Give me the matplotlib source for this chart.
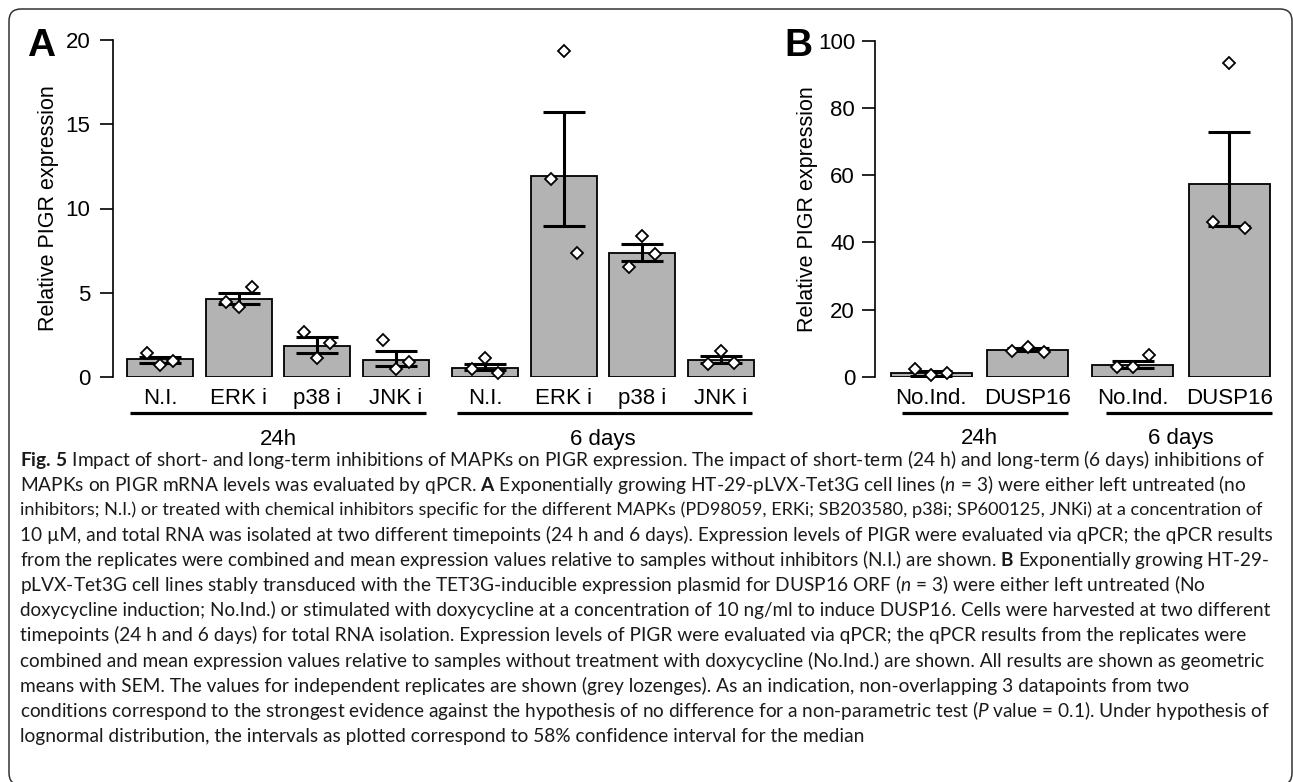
import matplotlib
matplotlib.use("Agg")
import matplotlib.pyplot as plt
from matplotlib.patches import FancyBboxPatch
from matplotlib.transforms import IdentityTransform, blended_transform_factory

# panel A: MAPK inhibitors, 24h then 6 days
labels_a = ["N.I.", "ERK i", "p38 i", "JNK i", "N.I.", "ERK i", "p38 i", "JNK i"]
mean_a = [1.05, 4.63, 1.84, 1.0, 0.55, 11.9, 7.34, 1.0]
low_a = [0.84, 4.32, 1.44, 0.67, 0.40, 8.98, 6.88, 0.81]
high_a = [1.20, 4.96, 2.39, 1.54, 0.80, 15.7, 7.87, 1.25]
reps_a = [[1.4, 0.73, 0.96], [4.43, 4.17, 5.32], [2.67, 1.11, 2.04], [2.2, 0.47, 0.87],
          [0.45, 1.1, 0.25], [11.78, 19.37, 7.34], [6.55, 8.37, 7.3], [0.75, 1.56, 0.81]]

# panel B: DUSP16 induction
labels_b = ["No.Ind.", "DUSP16", "No.Ind.", "DUSP16"]
mean_b = [1.0, 7.94, 3.48, 57.4]
low_b = [0.3, 7.6, 2.5, 44.85]
high_b = [1.6, 8.4, 4.67, 72.9]
reps_b = [[2.3, 0.5, 1.0], [7.74, 8.93, 7.44], [2.8, 2.8, 6.46], [46.1, 93.3, 44.3]]

groups = ["24h", "6 days"]

caption = [
    r"$\mathbf{Fig.\,5}$ Impact of short- and long-term inhibitions of MAPKs on PIGR expression. The impact of short-term (24 h) and long-term (6 days) inhibitions of",
    r"MAPKs on PIGR mRNA levels was evaluated by qPCR. $\mathbf{A}$ Exponentially growing HT-29-pLVX-Tet3G cell lines ($\mathit{n}$ = 3) were either left untreated (no",
    r"inhibitors; N.I.) or treated with chemical inhibitors specific for the different MAPKs (PD98059, ERKi; SB203580, p38i; SP600125, JNKi) at a concentration of",
    "10 \u00b5M, and total RNA was isolated at two different timepoints (24 h and 6 days). Expression levels of PIGR were evaluated via qPCR; the qPCR results",
    r"from the replicates were combined and mean expression values relative to samples without inhibitors (N.I.) are shown. $\mathbf{B}$ Exponentially growing HT-29-",
    r"pLVX-Tet3G cell lines stably transduced with the TET3G-inducible expression plasmid for DUSP16 ORF ($\mathit{n}$ = 3) were either left untreated (No",
    "doxycycline induction; No.Ind.) or stimulated with doxycycline at a concentration of 10 ng/ml to induce DUSP16. Cells were harvested at two different",
    "timepoints (24 h and 6 days) for total RNA isolation. Expression levels of PIGR were evaluated via qPCR; the qPCR results from the replicates were",
    "combined and mean expression values relative to samples without treatment with doxycycline (No.Ind.) are shown. All results are shown as geometric",
    "means with SEM. The values for independent replicates are shown (grey lozenges). As an indication, non-overlapping 3 datapoints from two",
    r"conditions correspond to the strongest evidence against the hypothesis of no difference for a non-parametric test ($\mathit{P}$ value = 0.1). Under hypothesis of",
    "lognormal distribution, the intervals as plotted correspond to 58% confidence interval for the median",
]

plt.rcParams['font.family'] = ['Liberation Sans', 'DejaVu Sans']
plt.rcParams['mathtext.fontset'] = 'custom'
plt.rcParams['mathtext.rm'] = 'Lato'
plt.rcParams['mathtext.it'] = 'Lato:italic'
plt.rcParams['mathtext.bf'] = 'Lato:bold'

W, H = 1293, 782
fig = plt.figure(figsize=(W / 100, H / 100), dpi=100)

def px_axes(left, top, right, bottom):
    return fig.add_axes([left / W, 1 - bottom / H, (right - left) / W, (bottom - top) / H])

def draw_panel(ax, labels, mean, low, high, reps, yticks, gap, width, xlim, lines, ypad, lpad):
    n = len(labels) // 2
    pos = [i + gap * (i // n) for i in range(len(labels))]
    ax.bar(pos, mean, width=width, color="#b3b3b3", edgecolor="black", linewidth=1.3, zorder=2)
    yerr = [[m - l for m, l in zip(mean, low)], [h - m for m, h in zip(mean, high)]]
    ax.errorbar(pos, mean, yerr=yerr, fmt="none", ecolor="black", elinewidth=2.2,
                capsize=15, capthick=2.2, zorder=3)
    for p, r in zip(pos, reps):
        ax.plot([p - 0.165, p, p + 0.165], r, linestyle="none", marker="D", markersize=6,
                markerfacecolor="white", markeredgecolor="black", markeredgewidth=1.3,
                zorder=4, clip_on=False)
    ax.set_xlim(*xlim)
    ax.set_ylim(yticks[0], yticks[-1])
    for s in ["top", "right", "bottom"]:
        ax.spines[s].set_visible(False)
    ax.spines["left"].set_bounds(yticks[0], yticks[-1])
    ax.spines["left"].set_linewidth(1.2)
    ax.set_yticks(yticks)
    ax.tick_params(axis="y", length=9.4, width=1.2, pad=ypad, labelsize=16)
    ax.set_xticks(pos)
    ax.set_xticklabels(labels)
    ax.tick_params(axis="x", length=0, pad=8, labelsize=16)
    ax.set_ylabel("Relative PIGR expression", fontsize=15.5, labelpad=lpad)
    tr = blended_transform_factory(ax.transData, ax.transAxes)
    for g, (x0, x1) in enumerate(lines):
        ax.plot([x0, x1], [-0.107, -0.107], color="black", linewidth=2.3,
                transform=tr, clip_on=False, solid_capstyle="butt")
        mid = (pos[g * n] + pos[g * n + n - 1]) / 2
        ax.text(mid, -0.185, groups[g], transform=tr, ha="center", va="center", fontsize=16)

ax_a = px_axes(113, 40, 760, 377)
draw_panel(ax_a, labels_a, mean_a, low_a, high_a, reps_a, [0, 5, 10, 15, 20], 0.13, 0.84,
           (-0.597, 7.624), [(-0.381, 3.38), (3.774, 7.52)], 7, 4.5)

ax_b = px_axes(875, 40.7, 1285, 376.7)
draw_panel(ax_b, labels_b, mean_b, low_b, high_b, reps_b, [0, 20, 40, 60, 80, 100], 0.09, 0.836,
           (-0.583, 3.668), [(-0.307, 1.413), (1.81, 3.538)], 5, 0)

fig.text(27 / W, 1 - 56 / H, "A", fontsize=28, fontweight="bold", va="baseline", ha="left")
fig.text(784 / W, 1 - 56 / H, "B", fontsize=28, fontweight="bold", va="baseline", ha="left")

# caption lines, shrunk when a line runs past the right margin
renderer = fig.canvas.get_renderer()
for i, line in enumerate(caption):
    y = 459 + 25.2 * i
    t = fig.text(20 / W, 1 - y / H, line, fontsize=13.8, family="Lato", va="center", ha="left",
                 color="#1a1a1a")
    w = t.get_window_extent(renderer).width
    if w > 1245:
        t.set_fontsize(13.8 * 1245 / w)

frame = FancyBboxPatch((9, -3), 1283, 776, boxstyle="round,pad=0,rounding_size=12",
                       transform=IdentityTransform(), fill=False, edgecolor="#333333",
                       linewidth=1.1)
fig.add_artist(frame)

fig.savefig("out.png", dpi=100)
